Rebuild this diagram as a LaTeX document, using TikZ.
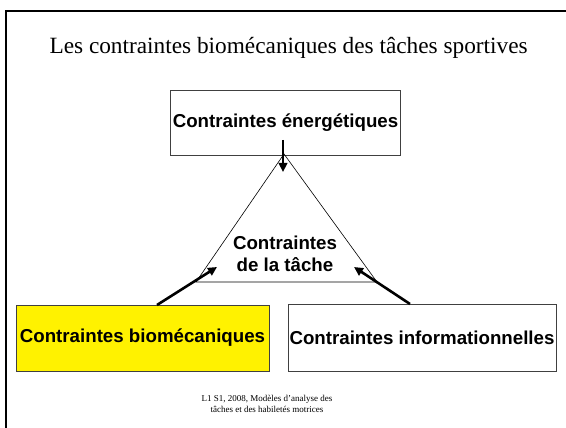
\documentclass[tikz,border=0pt]{standalone}
\usepackage{fontspec}
\setmainfont{Liberation Serif}
\newfontfamily\arialfont{Liberation Sans}
\usetikzlibrary{arrows.meta}

\begin{document}
\begin{tikzpicture}[x=1pt,y=-1pt,
        boite/.style={draw=black!75,line width=0.8pt,inner sep=0pt,font=\arialfont\bfseries\fontsize{18.7}{22}\selectfont},
        fleche/.style={-{Triangle[length=9pt,width=8.5pt]},line width=2.6pt}]
        \useasboundingbox (0,0) rectangle (566,428);
        % cadre de la diapositive
        \draw [line width=2.5pt] (6,440) -- (6,11) -- (580,11);
        \node [anchor=base west,font=\fontsize{23.3}{27}\selectfont] (titre) at (46,54) {Les contraintes biomécaniques des tâches sportives};
        % les trois boites
        \node [boite,minimum width=230,minimum height=65] (energ) at (285.5,123) {Contraintes énergétiques};
        \node [boite,fill=yellow,minimum width=253,minimum height=66] (bio) at (142.5,338) {Contraintes biomécaniques};
        \node [boite,minimum width=268,minimum height=67] (info) at (422,337.5) {Contraintes informationnelles};
        % le triangle de la tache
        \coordinate (sommet) at (284,154);
        \coordinate (gauche) at (196,282);
        \coordinate (droite) at (377,282);
        \draw [line width=0.6pt] (sommet) -- (gauche) -- (droite) -- cycle;
        \node [boite,draw=none,align=center] (tache) at (285,254) {Contraintes\\de la tâche};
        % les fleches
        \coordinate (e1) at (283,140);
        \coordinate (e2) at (283,172);
        \coordinate (b1) at (157,305);
        \coordinate (b2) at (217,267);
        \coordinate (i1) at (410,304);
        \coordinate (i2) at (354,267);
        \draw [fleche] (e1) -- (e2);
        \draw [fleche] (b1) -- (b2);
        \draw [fleche] (i1) -- (i2);
        \node [align=center,font=\fontsize{9}{11.5}\selectfont] (pied) at (267,404) {L1 S1, 2008, Modèles d'analyse des\\tâches et des habiletés motrices};
\end{tikzpicture}
\end{document}
